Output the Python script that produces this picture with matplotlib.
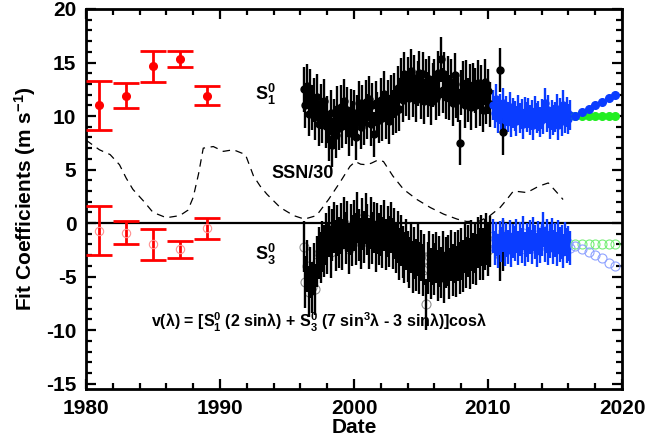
import numpy as np
import matplotlib
matplotlib.use('Agg')
import matplotlib.pyplot as plt
from matplotlib.ticker import MultipleLocator

plt.rcParams['font.family'] = ['Liberation Sans', 'DejaVu Sans']
plt.rcParams['font.weight'] = 'bold'
plt.rcParams['axes.labelweight'] = 'bold'
plt.rcParams['axes.unicode_minus'] = False
plt.rcParams['mathtext.fontset'] = 'custom'
plt.rcParams['mathtext.rm'] = 'Liberation Sans:bold'
plt.rcParams['mathtext.bf'] = 'Liberation Sans:bold'
plt.rcParams['mathtext.it'] = 'Liberation Sans:bold'
plt.rcParams['mathtext.default'] = 'bf'

# early ground-based fits (red), one per two years
early_years = [1981, 1983, 1985, 1987, 1989]
early_s1 = [11.0, 11.9, 14.65, 15.35, 11.9]
early_s1_err = [2.3, 1.15, 1.45, 0.75, 0.9]
early_s3 = [-0.7, -0.92, -2.0, -2.46, -0.5]
early_s3_err = [2.25, 1.08, 1.45, 0.8, 1.0]

# black series, 8 samples per year starting 1996.25
black_start = 1996.25
black_s1 = [12.5, 11.0, 12.8, 10.2, 12.3, 10.8,
            11.5, 9.9, 11.8, 9.3, 10.9, 9.6, 11.4, 9.1,
            9.8, 7.9, 10.3, 7.3, 9.5, 8.2, 10.7, 8.9,
            10.8, 9.1, 11.4, 9.5, 10.6, 8.4, 10.4, 9.3,
            10.3, 8.0, 9.9, 11.2, 9.0, 10.8, 9.4, 11.3,
            10.0, 11.6, 9.3, 11.0, 8.3, 11.2, 10.1, 9.6,
            11.5, 9.8, 12.1, 10.0, 11.3, 9.5, 11.7, 10.3,
            11.9, 10.5, 12.6, 10.7, 13.3, 11.5, 13.9, 12.1,
            13.4, 11.7, 14.2, 12.0, 13.6, 11.5, 13.0, 14.0,
            11.8, 13.9, 11.4, 13.2, 12.0, 13.5, 11.3, 12.9,
            13.2, 11.7, 14.0, 12.1, 15.3, 12.4, 13.9, 11.8,
            13.5, 11.7, 13.2, 11.2, 13.8, 11.9, 11.5, 7.5,
            12.2, 13.0, 11.0, 13.1, 11.5, 12.8, 10.8, 12.9,
            12.4, 11.0, 13.1, 11.2, 12.7, 10.6, 13.2, 11.4,
            12.3, 11.1]
black_s3 = [-2.2, -5.5, -4.0, -6.4, -4.6, -6.0,
            -4.3, -6.2, -3.6, -2.8, -3.2, -2.2, -2.6, -1.5,
            -2.4, -0.8, -2.7, -1.1, -0.4, -2.1, -0.7, -1.8,
            -0.5, -2.0, 0.0, -1.4, -0.3, -2.4, -0.6, -1.6,
            -0.2, -1.5, 0.5, -1.1, -1.9, -0.1, -1.3, 0.4,
            -0.6, -1.9, 0.0, -1.4, -0.4, -2.2, -0.5, -1.5,
            -0.7, -1.8, -0.2, -2.0, -0.8, -1.7, -0.4, -1.9,
            -1.0, -2.3, -1.3, -2.9, -1.6, -2.7, -3.2, -2.0,
            -3.1, -3.7, -2.3, -4.1, -2.8, -3.9, -2.5, -4.2,
            -3.0, -4.4, -3.4, -7.6, -4.2, -3.1, -4.7, -3.4,
            -4.3, -3.2, -4.9, -3.6, -4.6, -3.1, -5.1, -3.7,
            -3.5, -4.7, -3.0, -4.4, -3.2, -4.5, -3.0, -4.2,
            -2.9, -4.0, -2.3, -3.7, -2.6, -3.8, -2.1, -3.3,
            -2.3, -3.4, -1.8, -2.9, -1.6, -2.9, -2.0, -1.5,
            -2.5, -1.7]
# last two black rotations, after the overlap starts
black_tail_years = [2010.9, 2011.1]
black_tail_s1 = [14.3, 8.5]
black_tail_s3 = [-3.0, -2.1]
black_s1_err = 2.1
black_s3_err = 2.4

# blue series, 8 samples per year starting 2010.375
blue_start = 2010.375
blue_s1 = [11.0, 10.3, 11.6, 9.8, 10.7,
           10.1, 11.2, 9.6, 10.5, 9.9, 10.8, 9.4, 10.3,
           10.0, 9.5, 10.6, 9.8, 10.2, 9.3, 10.4, 9.9,
           10.3, 9.6, 10.1, 9.2, 10.5, 9.8, 10.0, 9.4,
           10.2, 9.7, 11.2, 9.9, 10.6, 9.3, 10.1, 9.6,
           9.9, 10.7, 9.2, 10.3, 9.5, 11.0, 9.8, 10.4,
           9.7, 10.1]
blue_s3 = [-1.2, -2.3, -1.5, -2.6, -1.4,
           -2.0, -1.1, -2.4, -1.6, -2.2, -1.3, -2.5, -1.7,
           -1.9, -1.2, -2.3, -1.5, -2.1, -0.9, -2.4, -1.6,
           -2.0, -1.3, -2.2, -1.0, -1.8, -2.5, -1.4, -2.1,
           -1.5, -0.6, -2.0, -1.2, -2.3, -1.7, -1.1, -2.2,
           -1.6, -2.4, -1.3, -2.0, -1.8, -2.6, -1.5, -2.1,
           -1.9, -2.3]
blue_s1_err = 1.4
blue_s3_err = 1.6

# projections
proj_years = [2016.5, 2017.0, 2017.5, 2018.0, 2018.5, 2019.0, 2019.5]
proj_blue_s1 = [10.0, 10.4, 10.7, 11.05, 11.35, 11.7, 12.0]
proj_green_s1 = [10.0, 10.0, 10.0, 10.0, 10.0, 10.0, 10.0]
proj_blue_s3 = [-2.1, -2.4, -2.7, -3.0, -3.3, -3.7, -4.0]
proj_green_s3 = [-2.0, -2.0, -2.0, -2.0, -2.0, -2.0, -2.0]

# smoothed sunspot number / 30
ssn_years = [1980.0, 1981.0, 1981.8, 1982.5, 1983.0, 1983.5, 1984.3, 1985.0,
             1986.0, 1987.0, 1987.6, 1988.0, 1988.4, 1988.75, 1989.5, 1990.25,
             1991.0, 1991.9, 1992.5, 1993.0, 1993.5, 1994.5, 1995.5, 1996.3,
             1997.2, 1998.1, 1999.0, 1999.7, 2000.1, 2000.5, 2000.95, 2001.3,
             2001.8, 2002.2, 2002.9, 2003.7, 2004.7, 2005.7, 2006.7, 2007.7,
             2008.4, 2009.4, 2010.15, 2010.9, 2011.4, 2011.9, 2012.9, 2013.8,
             2014.5, 2015.4, 2015.6]
ssn30 = [7.75, 6.85, 6.4, 5.45, 4.2, 3.15, 2.05, 1.0,
         0.5, 0.7, 1.2, 2.4, 4.6, 7.0, 7.15, 6.7,
         6.85, 6.4, 4.4, 3.45, 2.7, 1.45, 0.7, 0.37,
         0.7, 2.2, 3.9, 5.3, 5.75, 5.5, 5.45, 5.6,
         5.9, 5.75, 4.4, 3.15, 2.2, 1.45, 0.83, 0.37,
         0.15, 0.2, 0.7, 1.45, 2.2, 3.0, 2.85, 3.45,
         3.75, 2.5, 2.2]

black_years = black_start + np.arange(len(black_s1)) / 8.0
blue_years = blue_start + np.arange(len(blue_s1)) / 8.0

fig = plt.figure(figsize=(6.46, 4.44), dpi=100)
ax = fig.add_axes([86 / 646, 1 - 389 / 444, 536 / 646, 380 / 444])

ax.axhline(0, color='black', lw=1.6, zorder=1)
ax.plot(ssn_years, ssn30, color='black', lw=0.9, dashes=(6, 4.5), zorder=6)

red = '#ff0000'
ax.errorbar(early_years, early_s1, yerr=early_s1_err, fmt='o', color=red,
            ms=5.5, elinewidth=2, capsize=9.5, capthick=2, zorder=4)
ax.errorbar(early_years, early_s3, yerr=early_s3_err, fmt='none', ecolor=red,
            elinewidth=2, capsize=9.5, capthick=2, zorder=4)
ax.plot(early_years, early_s3, 'o', mfc='none', mec='#ff9090', ms=6, mew=0.8, zorder=5)

# black data: S1 filled, S3 open grey circles
bx = list(black_years) + black_tail_years
ax.plot(bx, black_s3 + black_tail_s3, 'o', mfc='none', mec='#909090', ms=6.5, mew=0.8, zorder=2)
ax.errorbar(bx, black_s3 + black_tail_s3, yerr=black_s3_err, fmt='none',
            ecolor='black', elinewidth=1.7, zorder=3)
ax.errorbar(bx, black_s1 + black_tail_s1, yerr=black_s1_err, fmt='o',
            color='black', ms=5, elinewidth=1.7, zorder=3)

blue = '#0a3cff'
ax.plot(blue_years, blue_s3, 'o', mfc='none', mec='#8fa2ff', ms=6.5, mew=0.8, zorder=2)
ax.errorbar(blue_years, blue_s3, yerr=blue_s3_err, fmt='none',
            ecolor=blue, elinewidth=1.7, zorder=3)
ax.errorbar(blue_years, blue_s1, yerr=blue_s1_err, fmt='o',
            color=blue, ms=5, elinewidth=1.7, zorder=3)

green = '#22ee22'
ax.plot(proj_years, proj_green_s1, 'o', color=green, ms=5.5, zorder=4)
ax.plot(proj_years, proj_blue_s1, 'o', color=blue, ms=5.5, zorder=5)
ax.plot(proj_years, proj_green_s3, 'o', mfc='none', mec='#77ee77', ms=6.5, mew=0.8, zorder=4)
ax.plot(proj_years, proj_blue_s3, 'o', mfc='none', mec='#8fa2ff', ms=6.5, mew=0.8, zorder=5)

ax.text(1992.6, 12.0, r'S${}_1^0$', fontsize=13, ha='left', va='center')
ax.text(1992.6, -2.9, r'S${}_3^0$', fontsize=13, ha='left', va='center')
ax.text(1996.2, 4.6, 'SSN/30', fontsize=13, ha='center', va='center')
ax.text(1997.4, -9.3,
        'v(λ) = [S${}_1^0$ (2 sinλ) + S${}_3^0$ (7 sin${}^3$λ - 3 sinλ)]cosλ',
        fontsize=11.5, ha='center', va='center')

ax.set_xlim(1980, 2020)
ax.set_ylim(-15.5, 20)
ax.xaxis.set_major_locator(MultipleLocator(10))
ax.xaxis.set_minor_locator(MultipleLocator(2))
ax.yaxis.set_major_locator(MultipleLocator(5))
ax.yaxis.set_minor_locator(MultipleLocator(1))
ax.tick_params(which='both', direction='in', top=True, right=True, width=1.6,
               labelsize=15, pad=7)
ax.tick_params(which='major', length=7)
ax.tick_params(which='minor', length=4)
for s in ax.spines.values():
    s.set_linewidth(2)

ax.set_xlabel('Date', fontsize=15, fontweight='bold', labelpad=0)
ax.set_ylabel('Fit Coefficients (m s$^{-1}$)', fontsize=15, fontweight='bold', labelpad=6)

fig.savefig('out.png', dpi=100)
